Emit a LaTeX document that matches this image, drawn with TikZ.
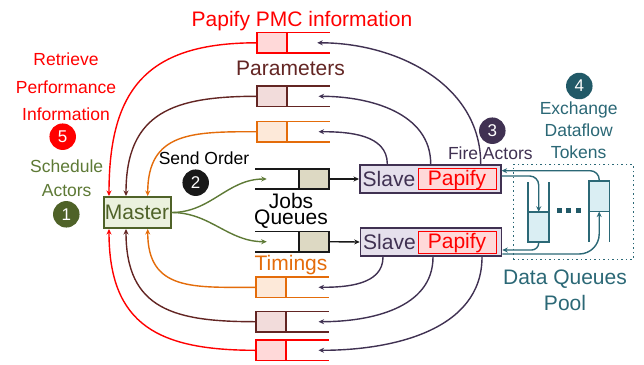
\documentclass[tikz,border=0pt]{standalone}
\usepackage{fontspec}
\setmainfont{Liberation Sans}
\usetikzlibrary{arrows.meta,calc}
\definecolor{cred}{HTML}{FF0000}
\definecolor{credf}{HTML}{FFD9D9}
\definecolor{cbrown}{HTML}{632523}
\definecolor{cbrownf}{HTML}{F2DCDB}
\definecolor{corange}{HTML}{E46C0A}
\definecolor{corangef}{HTML}{FDE9D9}
\definecolor{cbeige}{HTML}{DDD9C3}
\definecolor{cpurple}{HTML}{403152}
\definecolor{cpurplef}{HTML}{E5E0EC}
\definecolor{cgreen}{HTML}{4F6228}
\definecolor{cgreenl}{HTML}{5E7A36}
\definecolor{cgreenf}{HTML}{EBF1DE}
\definecolor{cteal}{HTML}{2B6876}
\definecolor{ctealf}{HTML}{DAEEF3}
\definecolor{ctealc}{HTML}{215967}
\begin{document}
\begin{tikzpicture}[x=1pt,y=1pt,
  big/.style={font=\fontsize{21}{25}\selectfont, inner sep=0pt},
  small/.style={font=\fontsize{17.5}{21}\selectfont, inner sep=0pt},
  qbox/.style={draw, line width=1.6pt, minimum width=30.5pt, minimum height=20.5pt, inner sep=0pt, outer sep=0pt},
  qline/.style={line width=1.6pt},
  num/.style={circle, minimum size=26.5pt, inner sep=0pt, text=white, font=\fontsize{17}{20}\selectfont},
  tip/.style={-{Stealth[length=5.5pt,width=5pt]}, line width=1.4pt},
  rtip/.style={{Stealth[length=5.5pt,width=5pt]}-, line width=1.4pt},
]
\fill[white] (0,0) rectangle (644,-364);
\useasboundingbox (0,0) rectangle (644,-364);

% ---------- PMC / parameter / timing queues ----------
\node[qbox, draw=cred, fill=credf] (qR1) at (272,-42.8) {};
\node[qbox, draw=cbrown, fill=cbrownf] (qB1) at (272,-96.3) {};
\node[qbox, draw=corange, fill=corangef] (qO1) at (272,-131.7) {};
\node[qbox, draw=corange, fill=corangef] (qO2) at (271,-287.3) {};
\node[qbox, draw=cbrown, fill=cbrownf] (qB2) at (271,-321.7) {};
\node[qbox, draw=cred, fill=credf] (qR2) at (271,-350.3) {};
\foreach \q/\c in {qR1/cred,qB1/cbrown,qO1/corange,qO2/corange,qB2/cbrown,qR2/cred}{
  \draw[qline,\c] (\q.north east) -- ++(43,0);
  \draw[qline,\c] (\q.south east) -- ++(43,0);
}

% ---------- Master ----------
\node[draw=cgreen, fill=cgreenf, line width=2pt, minimum width=67pt, minimum height=31pt,
      inner sep=0pt, text=cgreen, font=\fontsize{21}{25}\selectfont] (m) at (137,-212.5) {Master};

% ---------- Job queues ----------
\node[qbox, draw=black!90, fill=cbeige] (j1) at (314,-179) {};
\node[qbox, draw=black!90, fill=cbeige] (j2) at (314,-241.7) {};
\draw[qline, black!90] (j1.north west) -- ++(-44,0);
\draw[qline, black!90] (j1.south west) -- ++(-44,0);
\draw[qline, black!90] (j2.north west) -- ++(-44,0);
\draw[qline, black!90] (j2.south west) -- ++(-44,0);

% ---------- Slaves ----------
\node[draw=cpurple, fill=cpurplef, line width=1.6pt, minimum width=141pt, minimum height=28.5pt, inner sep=0pt] (s1) at (430.3,-179) {};
\node[draw=cpurple, fill=cpurplef, line width=1.6pt, minimum width=141pt, minimum height=28.5pt, inner sep=0pt] (s2) at (431,-242) {};
\node[draw=cred, fill=credf, line width=1pt, minimum width=78pt, minimum height=21.6pt, inner sep=0pt] (p1) at (457.2,-179) {};
\node[draw=cred, fill=credf, line width=1pt, minimum width=78pt, minimum height=21.6pt, inner sep=0pt] (p2) at (457.2,-242.3) {};
\node[big, text=cpurple, anchor=base] (sl1) at (389,-186.7) {Slave};
\node[big, text=cpurple, anchor=base] (sl2) at (389.5,-249.7) {Slave};
\node[big, text=cred, anchor=base] (pt1) at (457,-185) {Papify};
\node[big, text=cred, anchor=base] (pt2) at (457,-248.3) {Papify};

% ---------- Data queues pool ----------
\node[draw=cteal, dash pattern=on 1.5pt off 3pt, line width=1.5pt, minimum width=120pt, minimum height=94.6pt, inner sep=0pt] (pool) at (573.3,-212) {};
\node[qbox, draw=cteal, fill=ctealf, minimum width=21pt, minimum height=30.2pt] (q1) at (538.7,-226.9) {};
\node[qbox, draw=cteal, fill=ctealf, minimum width=20.5pt, minimum height=30.8pt] (q2) at (599.2,-196.2) {};
\draw[qline, cteal] (q1.north west) -- ++(0,30);
\draw[qline, cteal] (q1.north east) -- ++(0,30);
\draw[qline, cteal] (q2.south west) -- ++(0,-30.4);
\draw[qline, cteal] (q2.south east) -- ++(0,-30.4);
\foreach \x in {559.2,568.5,578.2}
  \fill[ctealc] (\x-2.5,-208.3) rectangle (\x+2.5,-213.3);

% ---------- connectors: queues -> master ----------
\draw[tip, cred, looseness=1.3] (qR1.west) to[out=180,in=90] ($(m.north)+(-28,0)$);
\draw[tip, cbrown, looseness=1.3] (qB1.west) to[out=180,in=90] ($(m.north)+(-11,0)$);
\draw[tip, corange, looseness=1.3] (qO1.west) to[out=180,in=90] ($(m.north)+(10.7,0)$);
\draw[rtip, corange, looseness=1.3] ($(m.south)+(10.7,0)$) to[out=-90,in=180] (qO2.west);
\draw[rtip, cbrown, looseness=1.3] ($(m.south)+(-11,0)$) to[out=-90,in=180] (qB2.west);
\draw[rtip, cred, looseness=1.3] ($(m.south)+(-28,0)$) to[out=-90,in=180] (qR2.west);

% ---------- master -> job queues -> slaves ----------
\draw[tip, cgreenl] (m.east) to[out=0,in=180] ($(j1.west)+(-32,0)$);
\draw[tip, cgreenl] (m.east) to[out=0,in=180] ($(j2.west)+(-32,0)$);
\draw[tip, black!90] (j1.east) -- (s1.west);
\draw[tip, black!90] (j2.east) -- (s2.west);

% ---------- slaves -> queues ----------
\draw[tip, cpurple] ($(s1.north west)+(28.3,0)$) to[out=90,in=0] ($(qO1.east)+(31.3,0)$);
\draw[tip, cpurple] ($(s1.north west)+(71.7,0)$) to[out=90,in=0] ($(qB1.east)+(31.3,0)$);
\draw[tip, cpurple] ($(s1.north west)+(121.7,0)$) to[out=90,in=0] ($(qR1.east)+(30,0)$);
\draw[tip, cpurple] ($(s2.south west)+(23.3,0)$) to[out=-90,in=0] ($(qO2.east)+(32.3,0)$);
\draw[tip, cpurple] ($(s2.south west)+(73.3,0)$) to[out=-90,in=0] ($(qB2.east)+(32.3,0)$);
\draw[tip, cpurple] ($(s2.south west)+(122.3,0)$) to[out=-90,in=0] ($(qR2.east)+(32.3,0)$);

% ---------- data token exchange ----------
\draw[tip, cteal, rounded corners=9pt] (q2.north) |- ($(s1.east)+(0,8.3)$);
\draw[tip, cteal, rounded corners=9pt] ($(s1.east)+(0,3)$) -| (q1.north);
\draw[tip, cteal, rounded corners=7pt] (q1.south) |- ($(s2.east)+(0,-8)$);
\draw[tip, cteal, rounded corners=20pt] ($(s2.east)+(0,-12)$) -| (q2.south);

% ---------- labels ----------
\node[big, text=cred, anchor=base] (tpmc) at (302,-26.7) {Papify PMC information};
\node[big, text=cbrown, anchor=base] (tpar) at (290.5,-75) {Parameters};
\node[big, text=corange, anchor=base] (ttim) at (291,-270.7) {Timings};
\node[font=\fontsize{21}{15.2}\selectfont, inner sep=0pt, align=center, anchor=north] (tjobs) at (291,-193.5) {Jobs\\Queues};
\node[small, anchor=base] (tsend) at (204,-164) {Send Order};
\node[small, text=cred, anchor=base] (tret1) at (66,-65.7) {Retrieve};
\node[small, text=cred, anchor=base] (tret2) at (66,-93.3) {Performance};
\node[small, text=cred, anchor=base] (tret3) at (66,-120.3) {Information};
\node[small, text=cgreenl, anchor=base] (tsch1) at (66.7,-172.7) {Schedule};
\node[small, text=cgreenl, anchor=base] (tsch2) at (66.7,-196) {Actors};
\node[small, text=cpurple, anchor=base] (tfire) at (490.3,-159.3) {Fire Actors};
\node[small, text=cteal, anchor=base] (tex1) at (578.7,-114) {Exchange};
\node[small, text=cteal, anchor=base] (tex2) at (578.7,-136) {Dataflow};
\node[small, text=cteal, anchor=base] (tex3) at (578.7,-158.3) {Tokens};
\node[big, text=cteal, anchor=base] (tdq1) at (565,-284) {Data Queues};
\node[big, text=cteal, anchor=base] (tdq2) at (565,-310) {Pool};

% ---------- step numbers ----------
\node[num, fill=cred] (n5) at (62.7,-136.7) {5};
\node[num, fill=cgreen] (n1) at (66.3,-214.3) {1};
\node[num, fill=black!90] (n2) at (195.7,-182.7) {2};
\node[num, fill=cpurple] (n3) at (492.3,-130.7) {3};
\node[num, fill=ctealc] (n4) at (579.3,-86) {4};
\end{tikzpicture}
\end{document}
